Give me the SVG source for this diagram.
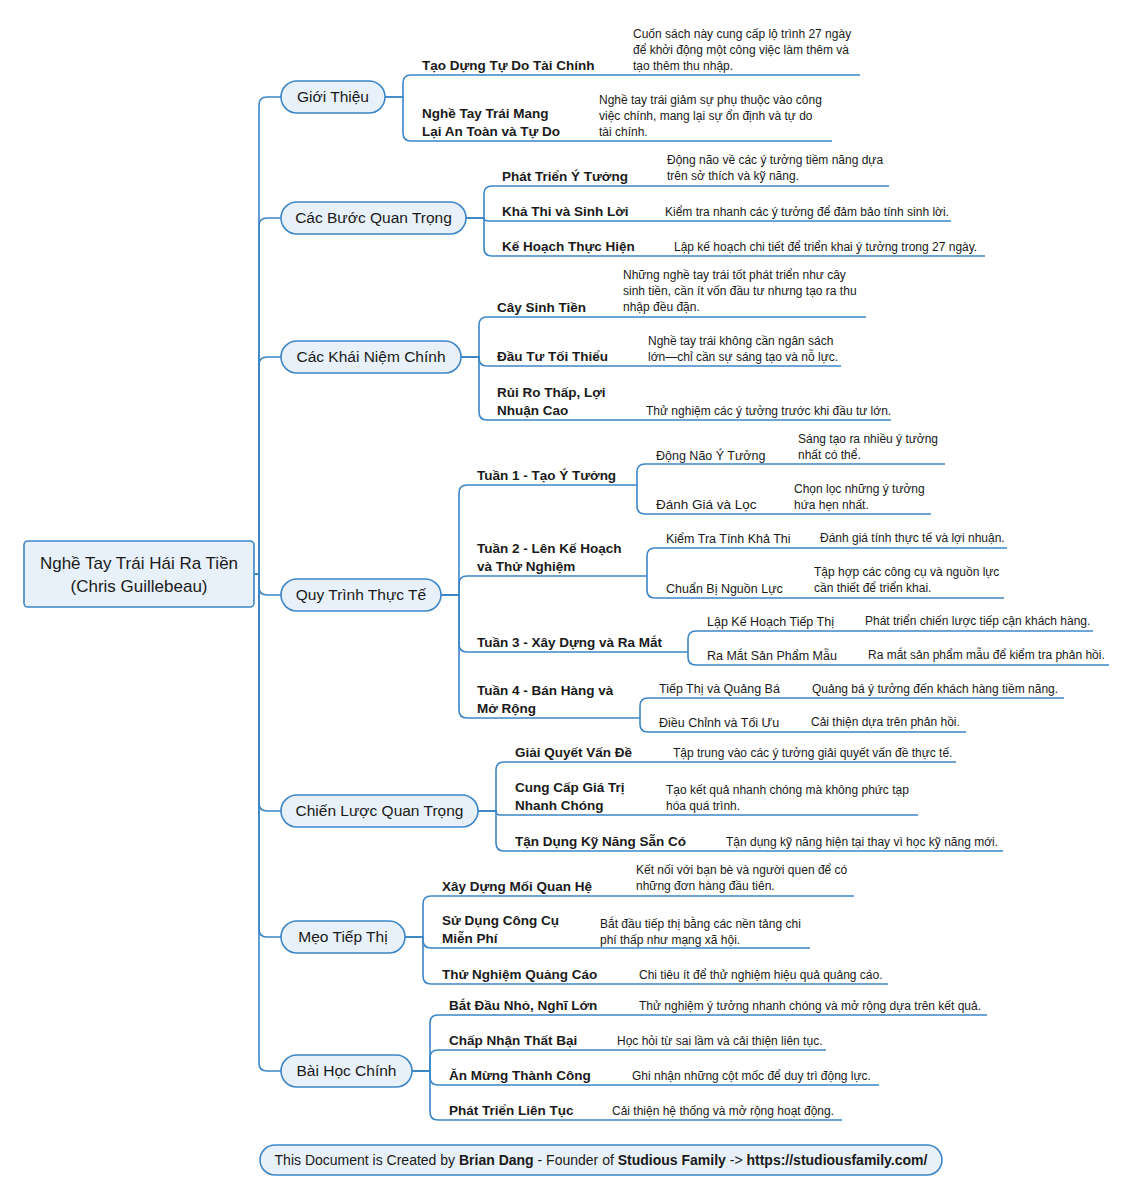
<svg xmlns="http://www.w3.org/2000/svg" width="1133" height="1200" viewBox="0 0 1133 1200">
<style>
text{font-family:"Liberation Sans","Noto Sans",Arial,sans-serif;fill:#1a1a1a}
.pill{fill:#e8f0f9;stroke:#3c86c8;stroke-width:1.6}
.c{fill:none;stroke:#3c86c8;stroke-width:1.6}
.r{font-size:17px;text-anchor:middle}
.m{font-size:15.5px;text-anchor:middle}
.b{font-size:13.5px;font-weight:bold}
.s{font-size:12.5px}
.s2{font-size:13.5px}
.d{font-size:12px}
.f{font-size:14px;text-anchor:middle}
</style>
<rect width="1133" height="1200" fill="#ffffff"/>
<g id="connectors">
<path class="c" d="M254,574 H259 V105 Q259,97 267,97 H281"/>
<path class="c" d="M254,574 H259 V226 Q259,218 267,218 H281"/>
<path class="c" d="M254,574 H259 V365 Q259,357 267,357 H281"/>
<path class="c" d="M254,574 H259 V587 Q259,595 267,595 H281"/>
<path class="c" d="M254,574 H259 V803 Q259,811 267,811 H281"/>
<path class="c" d="M254,574 H259 V929 Q259,937 267,937 H281"/>
<path class="c" d="M254,574 H259 V1063 Q259,1071 267,1071 H281"/>
<path class="c" d="M385,97 H403 V83 Q403,75 411,75 H860"/>
<path class="c" d="M385,97 H403 V133 Q403,141 411,141 H832"/>
<path class="c" d="M466,218 H484 V194 Q484,186 492,186 H889"/>
<path class="c" d="M466,218 H484 Q484,221 488,221 H951"/>
<path class="c" d="M466,218 H484 V248 Q484,256 492,256 H985"/>
<path class="c" d="M461,357 H479 V325 Q479,317 487,317 H866"/>
<path class="c" d="M461,357 H479 V358 Q479,366 487,366 H841"/>
<path class="c" d="M461,357 H479 V412 Q479,420 487,420 H891"/>
<path class="c" d="M441,595 H459 V493 Q459,485 467,485 H637"/>
<path class="c" d="M441,595 H459 V584 Q459,576 467,576 H647"/>
<path class="c" d="M441,595 H459 V644 Q459,652 467,652 H688"/>
<path class="c" d="M441,595 H459 V710 Q459,718 467,718 H640"/>
<path class="c" d="M637,485 V472 Q637,464 645,464 H945"/>
<path class="c" d="M637,485 V506 Q637,514 645,514 H931"/>
<path class="c" d="M647,576 V556 Q647,548 655,548 H1007"/>
<path class="c" d="M647,576 V590 Q647,598 655,598 H1004"/>
<path class="c" d="M688,652 V639 Q688,631 696,631 H1093"/>
<path class="c" d="M688,652 V657 Q688,665 696,665 H1109"/>
<path class="c" d="M640,718 V706 Q640,698 648,698 H1064"/>
<path class="c" d="M640,718 V724 Q640,732 648,732 H966"/>
<path class="c" d="M478,811 H496 V770 Q496,762 504,762 H956"/>
<path class="c" d="M478,811 H496 Q496,815 500,815 H918"/>
<path class="c" d="M478,811 H496 V843 Q496,851 504,851 H1003"/>
<path class="c" d="M405,937 H423 V904 Q423,896 431,896 H854"/>
<path class="c" d="M405,937 H423 V940 Q423,948 431,948 H810"/>
<path class="c" d="M405,937 H423 V976 Q423,984 431,984 H888"/>
<path class="c" d="M412,1071 H430 V1023 Q430,1015 438,1015 H987"/>
<path class="c" d="M412,1071 H430 V1058 Q430,1050 438,1050 H826"/>
<path class="c" d="M412,1071 H430 V1077 Q430,1085 438,1085 H879"/>
<path class="c" d="M412,1071 H430 V1112 Q430,1120 438,1120 H842"/>
</g>
<g id="root"><rect class="pill" x="24" y="541" width="230" height="66" rx="4"/><text class="r" x="139" y="569">Nghề Tay Trái Hái Ra Tiền</text><text class="r" x="139" y="592">(Chris Guillebeau)</text></g>
<g id="gioi-thieu"><rect class="pill" x="281" y="81" width="104" height="32" rx="16"/><text class="m" x="333" y="102">Giới Thiệu</text></g>
<g id="cac-buoc"><rect class="pill" x="281" y="202" width="185" height="32" rx="16"/><text class="m" x="373.5" y="223">Các Bước Quan Trọng</text></g>
<g id="khai-niem"><rect class="pill" x="281" y="341" width="180" height="32" rx="16"/><text class="m" x="371" y="362">Các Khái Niệm Chính</text></g>
<g id="quy-trinh"><rect class="pill" x="281" y="579" width="160" height="32" rx="16"/><text class="m" x="361" y="600">Quy Trình Thực Tế</text></g>
<g id="chien-luoc"><rect class="pill" x="281" y="795" width="197" height="32" rx="16"/><text class="m" x="379.5" y="816">Chiến Lược Quan Trọng</text></g>
<g id="meo"><rect class="pill" x="281" y="921" width="124" height="32" rx="16"/><text class="m" x="343" y="942">Mẹo Tiếp Thị</text></g>
<g id="bai-hoc"><rect class="pill" x="281" y="1055" width="131" height="32" rx="16"/><text class="m" x="346.5" y="1076">Bài Học Chính</text></g>

<g id="t1"><text class="b" x="422" y="70">Tạo Dựng Tự Do Tài Chính</text></g>
<g id="t1d"><text class="d" x="633" y="38">Cuốn sách này cung cấp lộ trình 27 ngày</text><text class="d" x="633" y="54">để khởi động một công việc làm thêm và</text><text class="d" x="633" y="70">tạo thêm thu nhập.</text></g>
<g id="t2"><text class="b" x="422" y="118">Nghề Tay Trái Mang</text><text class="b" x="422" y="136">Lại An Toàn và Tự Do</text></g>
<g id="t2d"><text class="d" x="599" y="104">Nghề tay trái giảm sự phụ thuộc vào công</text><text class="d" x="599" y="120">việc chính, mang lại sự ổn định và tự do</text><text class="d" x="599" y="136">tài chính.</text></g>

<g id="b1"><text class="b" x="502" y="181">Phát Triển Ý Tưởng</text></g>
<g id="b1d"><text class="d" x="667" y="164">Động não về các ý tưởng tiềm năng dựa</text><text class="d" x="667" y="180">trên sở thích và kỹ năng.</text></g>
<g id="b2"><text class="b" x="502" y="216">Khả Thi và Sinh Lời</text></g>
<g id="b2d"><text class="d" x="665" y="216">Kiểm tra nhanh các ý tưởng để đảm bảo tính sinh lời.</text></g>
<g id="b3"><text class="b" x="502" y="251">Kế Hoạch Thực Hiện</text></g>
<g id="b3d"><text class="d" x="674" y="251">Lập kế hoạch chi tiết để triển khai ý tưởng trong 27 ngày.</text></g>

<g id="k1"><text class="b" x="497" y="312">Cây Sinh Tiền</text></g>
<g id="k1d"><text class="d" x="623" y="279">Những nghề tay trái tốt phát triển như cây</text><text class="d" x="623" y="295">sinh tiền, cần ít vốn đầu tư nhưng tạo ra thu</text><text class="d" x="623" y="311">nhập đều đặn.</text></g>
<g id="k2"><text class="b" x="497" y="361">Đầu Tư Tối Thiểu</text></g>
<g id="k2d"><text class="d" x="648" y="345">Nghề tay trái không cần ngân sách</text><text class="d" x="648" y="361">lớn—chỉ cần sự sáng tạo và nỗ lực.</text></g>
<g id="k3"><text class="b" x="497" y="397">Rủi Ro Thấp, Lợi</text><text class="b" x="497" y="415">Nhuận Cao</text></g>
<g id="k3d"><text class="d" x="646" y="415">Thử nghiệm các ý tưởng trước khi đầu tư lớn.</text></g>

<g id="w1"><text class="b" x="477" y="480">Tuần 1 - Tạo Ý Tưởng</text></g>
<g id="w1a"><text class="s" x="656" y="460">Động Não Ý Tưởng</text></g>
<g id="w1ad"><text class="d" x="798" y="443">Sáng tạo ra nhiều ý tưởng</text><text class="d" x="798" y="459">nhất có thể.</text></g>
<g id="w1b"><text class="s2" x="656" y="509">Đánh Giá và Lọc</text></g>
<g id="w1bd"><text class="d" x="794" y="493">Chọn lọc những ý tưởng</text><text class="d" x="794" y="509">hứa hẹn nhất.</text></g>
<g id="w2"><text class="b" x="477" y="553">Tuần 2 - Lên Kế Hoạch</text><text class="b" x="477" y="571">và Thử Nghiệm</text></g>
<g id="w2a"><text class="s" x="666" y="543">Kiểm Tra Tính Khả Thi</text></g>
<g id="w2ad"><text class="d" x="820" y="542">Đánh giá tính thực tế và lợi nhuận.</text></g>
<g id="w2b"><text class="s" x="666" y="593">Chuẩn Bị Nguồn Lực</text></g>
<g id="w2bd"><text class="d" x="814" y="576">Tập hợp các công cụ và nguồn lực</text><text class="d" x="814" y="592">cần thiết để triển khai.</text></g>
<g id="w3"><text class="b" x="477" y="647">Tuần 3 - Xây Dựng và Ra Mắt</text></g>
<g id="w3a"><text class="s" x="707" y="626">Lập Kế Hoạch Tiếp Thị</text></g>
<g id="w3ad"><text class="d" x="865" y="625">Phát triển chiến lược tiếp cận khách hàng.</text></g>
<g id="w3b"><text class="s" x="707" y="660">Ra Mắt Sản Phẩm Mẫu</text></g>
<g id="w3bd"><text class="d" x="868" y="659">Ra mắt sản phẩm mẫu để kiểm tra phản hồi.</text></g>
<g id="w4"><text class="b" x="477" y="695">Tuần 4 - Bán Hàng và</text><text class="b" x="477" y="713">Mở Rộng</text></g>
<g id="w4a"><text class="s" x="659" y="693">Tiếp Thị và Quảng Bá</text></g>
<g id="w4ad"><text class="d" x="812" y="693">Quảng bá ý tưởng đến khách hàng tiềm năng.</text></g>
<g id="w4b"><text class="s" x="659" y="727">Điều Chỉnh và Tối Ưu</text></g>
<g id="w4bd"><text class="d" x="811" y="726">Cải thiện dựa trên phản hồi.</text></g>

<g id="c1"><text class="b" x="515" y="757">Giải Quyết Vấn Đề</text></g>
<g id="c1d"><text class="d" x="673" y="757">Tập trung vào các ý tưởng giải quyết vấn đề thực tế.</text></g>
<g id="c2"><text class="b" x="515" y="792">Cung Cấp Giá Trị</text><text class="b" x="515" y="810">Nhanh Chóng</text></g>
<g id="c2d"><text class="d" x="666" y="794">Tạo kết quả nhanh chóng mà không phức tạp</text><text class="d" x="666" y="810">hóa quá trình.</text></g>
<g id="c3"><text class="b" x="515" y="846">Tận Dụng Kỹ Năng Sẵn Có</text></g>
<g id="c3d"><text class="d" x="726" y="846">Tận dụng kỹ năng hiện tại thay vì học kỹ năng mới.</text></g>

<g id="m1"><text class="b" x="442" y="891">Xây Dựng Mối Quan Hệ</text></g>
<g id="m1d"><text class="d" x="636" y="874">Kết nối với bạn bè và người quen để có</text><text class="d" x="636" y="890">những đơn hàng đầu tiên.</text></g>
<g id="m2"><text class="b" x="442" y="925">Sử Dụng Công Cụ</text><text class="b" x="442" y="943">Miễn Phí</text></g>
<g id="m2d"><text class="d" x="600" y="928">Bắt đầu tiếp thị bằng các nền tảng chi</text><text class="d" x="600" y="944">phí thấp như mạng xã hội.</text></g>
<g id="m3"><text class="b" x="442" y="979">Thử Nghiệm Quảng Cáo</text></g>
<g id="m3d"><text class="d" x="639" y="979">Chi tiêu ít để thử nghiệm hiệu quả quảng cáo.</text></g>

<g id="l1"><text class="b" x="449" y="1010">Bắt Đầu Nhỏ, Nghĩ Lớn</text></g>
<g id="l1d"><text class="d" x="639" y="1010">Thử nghiệm ý tưởng nhanh chóng và mở rộng dựa trên kết quả.</text></g>
<g id="l2"><text class="b" x="449" y="1045">Chấp Nhận Thất Bại</text></g>
<g id="l2d"><text class="d" x="617" y="1045">Học hỏi từ sai lầm và cải thiện liên tục.</text></g>
<g id="l3"><text class="b" x="449" y="1080">Ăn Mừng Thành Công</text></g>
<g id="l3d"><text class="d" x="632" y="1080">Ghi nhận những cột mốc để duy trì động lực.</text></g>
<g id="l4"><text class="b" x="449" y="1115">Phát Triển Liên Tục</text></g>
<g id="l4d"><text class="d" x="612" y="1115">Cải thiện hệ thống và mở rộng hoạt động.</text></g>

<g id="footer"><rect class="pill" x="260" y="1145" width="682" height="30" rx="15"/><text class="f" x="601" y="1165">This Document is Created by <tspan font-weight="bold">Brian Dang</tspan> - Founder of <tspan font-weight="bold">Studious Family</tspan> -&gt; <tspan font-weight="bold">https://studiousfamily.com/</tspan></text></g>
</svg>
